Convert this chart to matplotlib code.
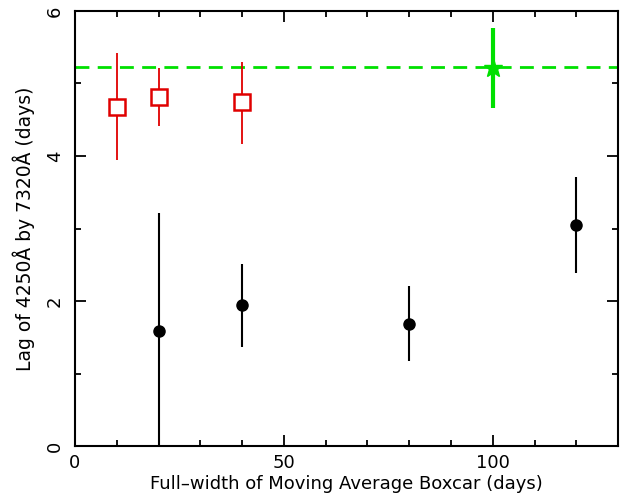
import numpy as np
import matplotlib.pyplot as plt
from matplotlib.ticker import MultipleLocator

# boxcar widths and lags
box_black = [20, 40, 80, 120]
lag_black = [1.59, 1.94, 1.69, 3.05]
err_black_lo = [1.59, 0.57, 0.52, 0.66]
err_black_hi = [1.62, 0.57, 0.52, 0.66]

box_red = [10, 20, 40]
lag_red = [4.68, 4.82, 4.74]
err_red_lo = [0.74, 0.40, 0.57]
err_red_hi = [0.74, 0.40, 0.56]

box_star = [100]
lag_star = [5.21]
err_star = [0.55]
ref_lag = 5.23

fig = plt.figure(figsize=(6.25, 4.99), dpi=100)
ax = fig.add_axes([0.12, 0.106, 0.869, 0.872])

ax.axhline(ref_lag, color='#00e000', ls=(0, (5, 3)), lw=2, zorder=1)

ax.errorbar(box_black, lag_black, yerr=[err_black_lo, err_black_hi], fmt='o',
            color='black', ms=8, elinewidth=1.5, capsize=0, zorder=3)
ax.errorbar(box_red, lag_red, yerr=[err_red_lo, err_red_hi], fmt='s',
            color='#e00000', mfc='white', mew=1.8, ms=11, elinewidth=1.3,
            capsize=0, zorder=3)
ax.errorbar(box_star, lag_star, yerr=err_star, fmt='*', color='#00e000',
            ms=14, elinewidth=3, capsize=0, zorder=4)

ax.set_xlim(0, 130)
ax.set_ylim(0, 6)
ax.xaxis.set_major_locator(MultipleLocator(50))
ax.xaxis.set_minor_locator(MultipleLocator(10))
ax.yaxis.set_major_locator(MultipleLocator(2))
ax.yaxis.set_minor_locator(MultipleLocator(1))
ax.tick_params(which='both', direction='in', top=True, right=True,
               labelsize=13, width=1.3)
ax.tick_params(axis='x', pad=6)
ax.tick_params(axis='y', pad=8)
ax.tick_params(which='major', length=8)
ax.tick_params(which='minor', length=4.5)
for lab in ax.get_yticklabels():
    lab.set_rotation(90)
    lab.set_va('center')
for sp in ax.spines.values():
    sp.set_linewidth(1.5)

ax.set_xlabel('Full\u2013width of Moving Average Boxcar (days)', fontsize=13, labelpad=2)
ax.set_ylabel('Lag of 4250Å by 7320Å (days)', fontsize=13.5, labelpad=8)

fig.savefig('out.png', dpi=100)
